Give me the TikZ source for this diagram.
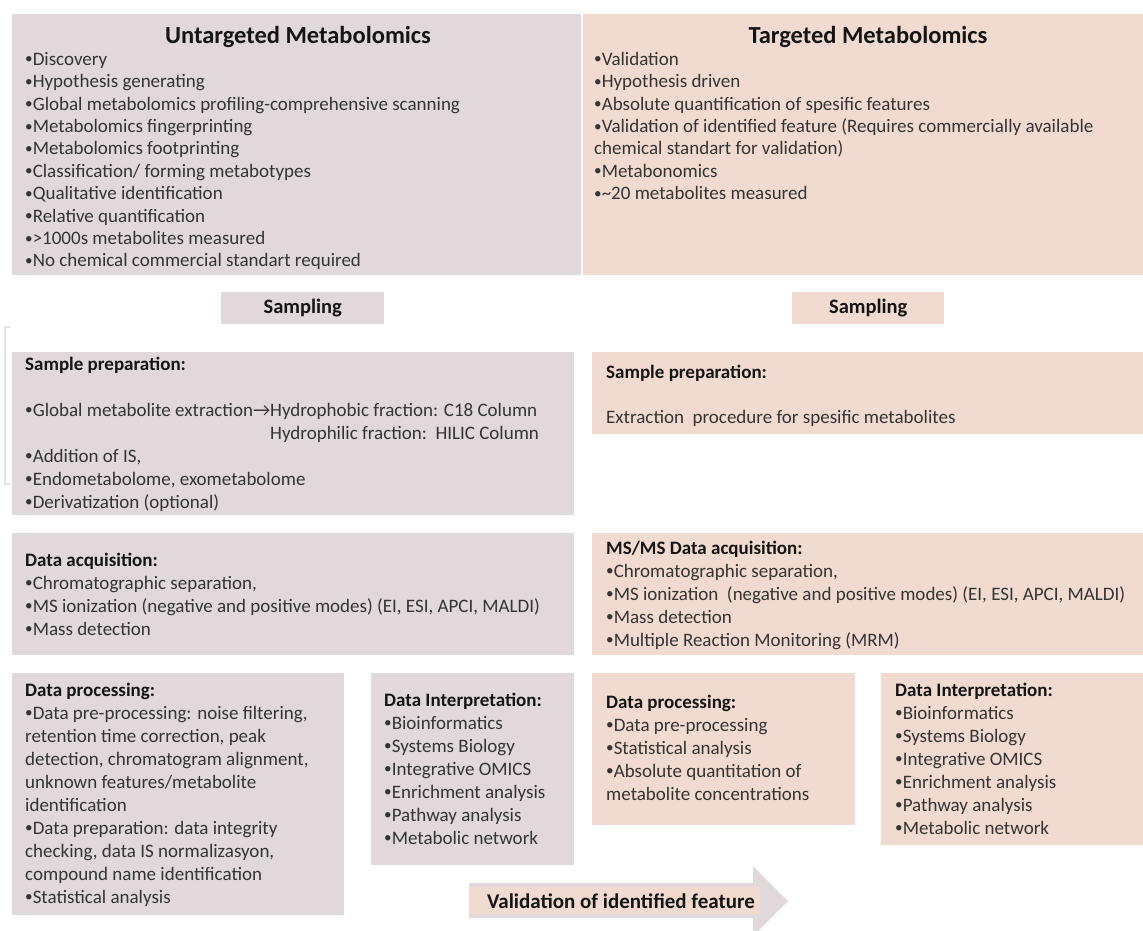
\documentclass[tikz,border=0pt]{standalone}
\usepackage{fontspec}
\setmainfont{Carlito}
\definecolor{lavc}{RGB}{224,216,219}
\definecolor{pchc}{RGB}{241,219,208}
\definecolor{bodyc}{RGB}{52,52,52}
\definecolor{ttlc}{RGB}{20,20,20}
\definecolor{brk}{RGB}{228,228,228}
\newcommand\mystrut{\rule{0pt}{15pt}}
\newcommand\hd[1]{{\bfseries\color{ttlc}#1}}
\newcommand\bu{\raisebox{0.07em}{\scalebox{0.8}{•}}}
\begin{document}
\begin{tikzpicture}[x=1pt,y=-1pt,
  panel/.style={draw=none,inner sep=0,anchor=north west},
  lavbox/.style={panel,fill=lavc},
  pchbox/.style={panel,fill=pchc},
  txt/.style={anchor=north west,inner sep=0,align=left,text=bodyc,font=\fontsize{19}{23}\selectfont},
  ttl/.style={anchor=base,inner sep=0,text=ttlc,font=\bfseries\fontsize{24.5}{28}\selectfont},
  samp/.style={inner sep=0,text=ttlc,font=\bfseries\fontsize{20.5}{24}\selectfont}]
\useasboundingbox (0,0) rectangle (1143,930);

% top panels
\node[lavbox,minimum width=569pt,minimum height=261pt] (utb) at (12,14) {};
\node[pchbox,minimum width=560pt,minimum height=261pt] (ttb) at (583,14) {};
\node[ttl] (utt) at (298,43) {Untargeted Metabolomics};
\node[ttl] (tgt) at (868,43) {Targeted Metabolomics};
\node[txt,font=\fontsize{19}{22.4}\selectfont] (utl) at (25,50) {\mystrut\bu Discovery\\
\bu Hypothesis generating\\
\bu Global metabolomics profiling-comprehensive scanning\\
\bu Metabolomics fingerprinting\\
\bu Metabolomics footprinting\\
\bu Classification/ forming metabotypes\\
\bu Qualitative identification\\
\bu Relative quantification\\
\bu >1000s metabolites measured\\
\bu No chemical commercial standart required};
\node[txt,font=\fontsize{19}{22.4}\selectfont] (tgl) at (594,50) {\mystrut\bu Validation\\
\bu Hypothesis driven\\
\bu Absolute quantification of spesific features\\
\bu Validation of identified feature (Requires commercially available\\
chemical standart for validation)\\
\bu Metabonomics\\
\bu\textasciitilde20 metabolites measured};

% sampling
\node[lavbox,minimum width=163pt,minimum height=32pt] (sl) at (221,292) {};
\node[samp] (slt) at (sl.center) {Sampling};
\node[pchbox,minimum width=152pt,minimum height=32pt] (sr) at (792,292) {};
\node[samp] (srt) at (sr.center) {Sampling};

% faint bracket
\draw[brk,line width=1.2pt] (10,327) -- (5,327) -- (5,484) -- (10,484);

% sample preparation
\node[lavbox,minimum width=562pt,minimum height=163pt] (spl) at (12,352) {};
\node[txt] (splt) at (25,355) {\mystrut\hd{Sample preparation:}\\[23pt]
\bu Global metabolite extraction→Hydrophobic fraction: C18 Column\\
\hphantom{\bu Global metabolite extraction→}Hydrophilic fraction:\ \ HILIC Column\\
\bu Addition of IS,\\
\bu Endometabolome, exometabolome\\
\bu Derivatization (optional)};
\node[pchbox,minimum width=551pt,minimum height=82pt] (spr) at (592,352) {};
\node[txt] (sprt) at (606,363) {\mystrut\hd{Sample preparation:}\\[22pt]
Extraction\ \ procedure for spesific metabolites};

% data acquisition
\node[lavbox,minimum width=562pt,minimum height=122pt] (dal) at (12,533) {};
\node[txt] (dalt) at (25,551) {\mystrut\hd{Data acquisition:}\\
\bu Chromatographic separation,\\
\bu MS ionization (negative and positive modes) (EI, ESI, APCI, MALDI)\\
\bu Mass detection};
\node[pchbox,minimum width=551pt,minimum height=122pt] (dar) at (592,533) {};
\node[txt] (dart) at (606,539) {\mystrut\hd{MS/MS Data acquisition:}\\
\bu Chromatographic separation,\\
\bu MS ionization\ \ (negative and positive modes) (EI, ESI, APCI, MALDI)\\
\bu Mass detection\\
\bu Multiple Reaction Monitoring (MRM)};

% data processing / interpretation (left)
\node[lavbox,minimum width=332pt,minimum height=242pt] (dpl) at (12,673) {};
\node[txt] (dplt) at (25,681) {\mystrut\hd{Data processing:}\\
\bu Data pre-processing: noise filtering,\\
retention time correction, peak\\
detection, chromatogram alignment,\\
unknown features/metabolite\\
identification\\
\bu Data preparation: data integrity\\
checking, data IS normalizasyon,\\
compound name identification\\
\bu Statistical analysis};
\node[lavbox,minimum width=203pt,minimum height=192pt] (dil) at (371,673) {};
\node[txt] (dilt) at (384,691) {\mystrut\hd{Data Interpretation:}\\
\bu Bioinformatics\\
\bu Systems Biology\\
\bu Integrative OMICS\\
\bu Enrichment analysis\\
\bu Pathway analysis\\
\bu Metabolic network};

% data processing / interpretation (right)
\node[pchbox,minimum width=263pt,minimum height=152pt] (dpr) at (592,673) {};
\node[txt] (dprt) at (606,693) {\mystrut\hd{Data processing:}\\
\bu Data pre-processing\\
\bu Statistical analysis\\
\bu Absolute quantitation of\\
metabolite concentrations};
\node[pchbox,minimum width=262pt,minimum height=172pt] (dir) at (881,673) {};
\node[txt] (dirt) at (895,681) {\mystrut\hd{Data Interpretation:}\\
\bu Bioinformatics\\
\bu Systems Biology\\
\bu Integrative OMICS\\
\bu Enrichment analysis\\
\bu Pathway analysis\\
\bu Metabolic network};

% validation arrow
\fill[lavc] (469,883) -- (753,883) -- (753,866) -- (788,901) -- (753,936) -- (753,918) -- (469,918) -- cycle;
\node[pchbox,minimum width=291pt,minimum height=27pt] (vbg) at (469,887) {};
\node[samp,font=\bfseries\fontsize{21}{24}\selectfont] (val) at (621,901) {Validation of identified feature};
\end{tikzpicture}
\end{document}
